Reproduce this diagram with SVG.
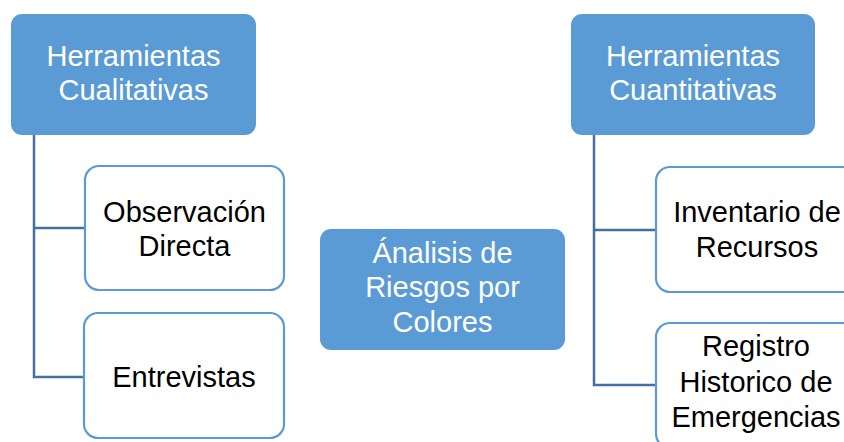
<svg xmlns="http://www.w3.org/2000/svg" width="844" height="442" viewBox="0 0 844 442">
<style>
.main{fill:#5B9BD5;stroke:none}
.child{fill:#FFFFFF;stroke:#5B9BD5;stroke-width:2.2}
.wt{fill:#FFFFFF;font-family:"Liberation Sans",Arial,sans-serif;font-size:29px;text-anchor:middle}
.bt{fill:#000000;font-family:"Liberation Sans",Arial,sans-serif;font-size:29px;text-anchor:middle}
.conn{fill:none;stroke:#41719C;stroke-width:2.5}
</style>
<rect width="844" height="442" fill="#FFFFFF"/>
<g id="connectors">
<path class="conn" d="M34,135 V377 H84"/>
<path class="conn" d="M34,228 H85"/>
<path class="conn" d="M594,135 V385 H656"/>
<path class="conn" d="M594,230 H656"/>
</g>
<g id="cualitativas">
<rect class="main" x="11" y="14" width="245" height="121" rx="11"/>
<text class="wt" x="133.5" y="66">Herramientas</text>
<text class="wt" x="133.5" y="100">Cualitativas</text>
</g>
<g id="observacion">
<rect class="child" x="85" y="166" width="199" height="124" rx="14"/>
<text class="bt" x="184.5" y="222">Observación</text>
<text class="bt" x="184.5" y="256">Directa</text>
</g>
<g id="entrevistas">
<rect class="child" x="84" y="313" width="200" height="125" rx="14"/>
<text class="bt" x="184" y="387">Entrevistas</text>
</g>
<g id="analisis">
<rect class="main" x="320" y="229" width="245" height="121" rx="11"/>
<text class="wt" x="442.5" y="263">Ánalisis de</text>
<text class="wt" x="442.5" y="297">Riesgos por</text>
<text class="wt" x="442.5" y="332">Colores</text>
</g>
<g id="cuantitativas">
<rect class="main" x="571" y="14" width="244" height="121" rx="11"/>
<text class="wt" x="693" y="66">Herramientas</text>
<text class="wt" x="693" y="100">Cuantitativas</text>
</g>
<g id="inventario">
<rect class="child" x="656" y="167" width="200" height="125" rx="14"/>
<text class="bt" x="757" y="222">Inventario de</text>
<text class="bt" x="757" y="257">Recursos</text>
</g>
<g id="registro">
<rect class="child" x="656" y="323" width="200" height="125" rx="14"/>
<text class="bt" x="756" y="356">Registro</text>
<text class="bt" x="756" y="392">Historico de</text>
<text class="bt" x="756" y="427">Emergencias</text>
</g>
</svg>
